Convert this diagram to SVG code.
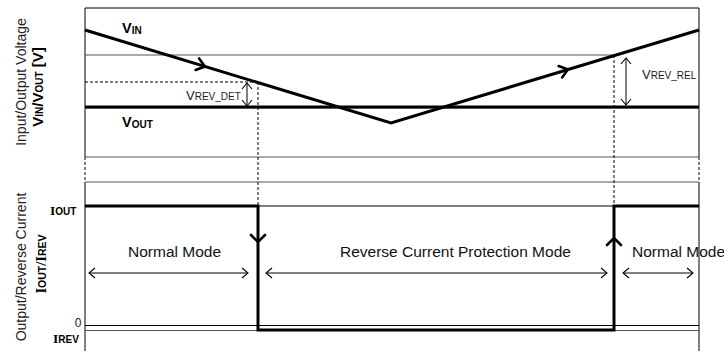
<svg xmlns="http://www.w3.org/2000/svg" width="724" height="351" viewBox="0 0 724 351">
<defs>
<marker id="oa" viewBox="-8 -6 10 12" markerWidth="10" markerHeight="12" refX="0" refY="0" orient="auto-start-reverse" markerUnits="userSpaceOnUse">
<path d="M-6,-5 L0,0 L-6,5" fill="none" stroke="#000" stroke-width="1.1"/>
</marker>
</defs>
<style>
.thin{stroke:#000;stroke-width:1;fill:none}
.gray{stroke:#555;stroke-width:1;fill:none}
.thick{stroke:#000;stroke-width:3;fill:none}
.dash{stroke:#000;stroke-width:1;stroke-dasharray:3 2;fill:none}
.dbl{stroke:#000;stroke-width:1;fill:none;marker-start:url(#oa);marker-end:url(#oa)}
.chev{stroke:#000;stroke-width:2.6;fill:none;stroke-linecap:round}
.lbl{font-family:"Liberation Sans",Arial,sans-serif;font-size:15.5px;fill:#111}
.ax{font-family:"Liberation Sans",Arial,sans-serif;font-size:14px;fill:#222}
.axb{font-family:"Liberation Sans",Arial,sans-serif;font-weight:bold;fill:#000}
.sm{font-family:"Liberation Sans",Arial,sans-serif;fill:#222}
.ser{font-family:"Liberation Serif","Times New Roman",serif;font-weight:bold;fill:#000}
</style>
<rect width="724" height="351" fill="#fff"/>
<g id="frame">
<line class="thin" x1="85" y1="8" x2="699" y2="8"/>
<line class="thin" x1="85" y1="8" x2="85" y2="157"/>
<line class="dash" x1="85" y1="157" x2="85" y2="182"/>
<line class="thin" x1="85" y1="182" x2="85" y2="351"/>
<line class="thin" x1="699" y1="8" x2="699" y2="157"/>
<line class="dash" x1="699" y1="157" x2="699" y2="182"/>
<line class="thin" x1="699" y1="182" x2="699" y2="351"/>
</g>
<g id="grid">
<line class="gray" x1="85" y1="55" x2="614" y2="55"/>
<line class="gray" x1="85" y1="108" x2="699" y2="108"/>
<line class="gray" x1="85" y1="157" x2="699" y2="157"/>
<line class="gray" x1="85" y1="182" x2="699" y2="182"/>
<line class="thin" x1="85" y1="206" x2="699" y2="206"/>
<line class="thin" x1="85" y1="325.5" x2="699" y2="325.5"/>
<line class="gray" x1="85" y1="330.5" x2="699" y2="330.5"/>
<line class="dash" x1="85" y1="82" x2="257" y2="82"/>
</g>
<g id="connectors">
<line class="dash" x1="258" y1="82" x2="258" y2="206"/>
<line class="dash" x1="614" y1="55" x2="614" y2="206"/>
<line class="dbl" x1="247" y1="83" x2="247" y2="106"/>
<line class="dbl" x1="626" y1="58" x2="626" y2="105"/>
<line class="dbl" x1="89" y1="273" x2="248" y2="273"/>
<line class="dbl" x1="266" y1="273" x2="607" y2="273"/>
<line class="dbl" x1="623" y1="273" x2="693" y2="273"/>
</g>
<g id="vin">
<polyline class="thick" points="85,30 391,123 699,30"/>
<path class="chev" d="M-8,-6 L0,0 L-8,6" transform="translate(205,66.5) rotate(16.9)"/>
<path class="chev" d="M-8,-6 L0,0 L-8,6" transform="translate(568,69.5) rotate(-16.9)"/>
<text x="122" y="33" class="axb" font-size="14.5">V<tspan font-size="10" dy="1">IN</tspan></text>
</g>
<g id="vout">
<line class="thick" x1="85" y1="107" x2="699" y2="107"/>
<text x="122" y="127" class="axb" font-size="14.5">V<tspan font-size="10" dy="1">OUT</tspan></text>
</g>
<g id="vrevdet">
<text x="186" y="100" class="sm" font-size="13">V<tspan font-size="10">REV_DET</tspan></text>
</g>
<g id="vrevrel">
<text x="642" y="79" class="sm" font-size="13">V<tspan font-size="10">REV_REL</tspan></text>
</g>
<g id="iout">
<polyline class="thick" points="85,206 258,206 258,330 614,330 614,206 699,206"/>
<path class="chev" d="M-7,-7 L0,0 L-7,7" transform="translate(258,242) rotate(90)"/>
<path class="chev" d="M-7,-7 L0,0 L-7,7" transform="translate(614,238) rotate(-90)"/>
<text x="50" y="215" class="ser" font-size="13.5">I<tspan class="axb" font-size="10">OUT</tspan></text>
<text x="53" y="343" class="ser" font-size="13.5">I<tspan class="axb" font-size="10">REV</tspan></text>
<text x="81.5" y="327" class="sm" font-size="12" text-anchor="end">0</text>
</g>
<g id="modes">
<text x="128" y="257" class="lbl">Normal Mode</text>
<text x="340" y="257" class="lbl">Reverse Current Protection Mode</text>
<text x="632" y="257" class="lbl" font-size="15">Normal Mode</text>
</g>
<g id="axes">
<text class="ax" text-anchor="middle" transform="translate(26,82) rotate(-90)">Input/Output Voltage</text>
<text class="axb" font-size="15" text-anchor="middle" transform="translate(43,87) rotate(-90)">V<tspan font-size="10">IN</tspan>/V<tspan font-size="10">OUT</tspan> [V]</text>
<text class="ax" font-size="14.5" text-anchor="middle" transform="translate(26,267) rotate(-90)">Output/Reverse Current</text>
<text class="ser" font-size="14.5" text-anchor="middle" transform="translate(46,264) rotate(-90)">I<tspan class="axb" font-size="10.5">OUT</tspan>/I<tspan class="axb" font-size="10.5">REV</tspan></text>
</g>
</svg>
